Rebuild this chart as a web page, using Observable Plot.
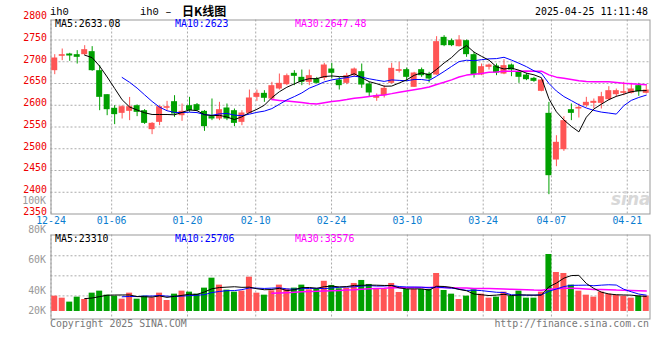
<!DOCTYPE html>
<html><head><meta charset="utf-8">
<script src="https://cdn.jsdelivr.net/npm/d3@7"></script>
<script src="https://cdn.jsdelivr.net/npm/@observablehq/plot@0.6"></script>
<style>
body{margin:0;background:#fff;}
#wrap{position:relative;width:660px;height:360px;overflow:hidden;background:#fff;}
#wrap svg{position:absolute;left:0;top:0;background:transparent;}
.t{position:absolute;white-space:pre;font-family:"DejaVu Sans Mono",monospace;font-size:9.9px;line-height:1;}
</style></head><body><div id="wrap"></div>
<script>
// ---------- data ----------
const dates = ["2024-12-24","2024-12-25","2024-12-26","2024-12-27","2024-12-30","2024-12-31",
"2025-01-02","2025-01-03","2025-01-06","2025-01-07","2025-01-08","2025-01-09","2025-01-10","2025-01-13","2025-01-14","2025-01-15","2025-01-16","2025-01-17","2025-01-20","2025-01-21","2025-01-22","2025-01-23","2025-01-24","2025-01-27",
"2025-02-05","2025-02-06","2025-02-07","2025-02-10","2025-02-11","2025-02-12","2025-02-13","2025-02-14","2025-02-17","2025-02-18","2025-02-19","2025-02-20","2025-02-21","2025-02-24","2025-02-25","2025-02-26","2025-02-27","2025-02-28",
"2025-03-03","2025-03-04","2025-03-05","2025-03-06","2025-03-07","2025-03-10","2025-03-11","2025-03-12","2025-03-13","2025-03-14","2025-03-17","2025-03-18","2025-03-19","2025-03-20","2025-03-21","2025-03-24","2025-03-25","2025-03-26","2025-03-27","2025-03-28","2025-03-31",
"2025-04-01","2025-04-02","2025-04-03","2025-04-07","2025-04-08","2025-04-09","2025-04-10","2025-04-11","2025-04-14","2025-04-15","2025-04-16","2025-04-17","2025-04-18","2025-04-21","2025-04-22","2025-04-23","2025-04-24"];
const open  = [2679.5,2712.5,2717.8,2716.3,2716.3,2723.2,2679.5,2624.3,2593,2581.4,2586,2599,2587.5,2543.9,2560.7,2593,2608.2,2576,2599,2601.3,2586,2573.8,2568.4,2593.7,2587.5,2560.7,2581.4,2618.2,2627.4,2614.4,2637.4,2647.3,2673.4,2664.2,2652.7,2660.3,2661.9,2683.3,2658,2650.4,2668,2677.2,2648.8,2616,2622,2650.4,2678,2681.8,2641.2,2681.8,2671.8,2669.5,2756.1,2748.5,2734.7,2748.5,2716.3,2669.5,2687.2,2690.2,2671.8,2692.5,2675.7,2669.5,2661.9,2632,2581.4,2474.1,2497.9,2589.8,2591.4,2599,2604.4,2604.4,2612.8,2624.3,2627.4,2627.4,2645,2627.4];
const high  = [2716.3,2729.3,2719.4,2725.5,2737,2734.7,2691,2624.3,2599,2599,2618,2601,2590,2560,2599,2609,2622,2602.9,2618.2,2604,2588,2614.4,2606.7,2602.9,2591.4,2587.5,2635,2635,2633.5,2652.7,2671.8,2671.8,2679.5,2681,2681,2664,2696.4,2696.4,2664.2,2673.4,2685.6,2694.8,2652.7,2625.9,2645,2696.4,2698.7,2685.6,2675.7,2685.6,2675.7,2757.7,2760,2752.3,2760,2750,2721.6,2694.8,2694.8,2694.8,2704.8,2694.8,2679.5,2673.4,2664.2,2659,2606.7,2530,2573.8,2602.9,2602.9,2618.2,2614.4,2629.7,2642.7,2637.4,2652.7,2650.4,2650.4,2645];
const low   = [2670.3,2702.5,2701,2694.8,2714,2678,2587.5,2576,2555.4,2568.4,2564.6,2573.8,2556,2532.4,2553,2587.5,2572.2,2563,2583.7,2586,2540,2564.6,2564.6,2564.6,2550.8,2553,2580,2609,2606.7,2610.5,2635,2645,2645,2645,2645,2648.8,2656.5,2660.3,2635,2647.3,2664.2,2638.9,2618.2,2609,2616.7,2648.8,2674.1,2654.2,2641,2664.2,2651.2,2669,2734.7,2734.7,2734,2710.2,2662.6,2668,2681,2668,2670.3,2665.7,2650.4,2656.5,2652.7,2631,2394.4,2458.8,2494,2564.6,2570.7,2595.2,2591.4,2591.4,2610.5,2618.2,2622,2625.9,2620.5,2625.9];
const close = [2708.6,2716.3,2713.2,2710.2,2727.8,2679.5,2618.2,2589.8,2578.4,2596.7,2596.7,2583.7,2558.4,2558.4,2596.7,2596.7,2579.9,2586,2587.5,2587.5,2550.8,2568.4,2589.8,2568.4,2558.4,2582.2,2616.7,2627.4,2616,2645,2650.4,2668,2666.5,2652.7,2668,2650.4,2692.5,2673.4,2645,2668,2683.3,2646.5,2628.2,2622,2638.9,2684.9,2681.8,2664.2,2674.1,2668,2660.3,2746.2,2737,2737,2750,2716.3,2670.3,2688.7,2692.5,2674.1,2691,2681,2664.2,2658.8,2655,2658,2438.1,2514.8,2564.6,2581.4,2595.2,2606.7,2609,2619.7,2633.5,2633.5,2631.2,2637.4,2631.2,2635];
const volume = [27500,23900,16800,25700,21500,32900,36500,29300,27500,22100,
32900,22100,27500,24500,32900,19700,31100,36500,34700,31100,
41900,59800,47300,38300,34700,36500,61600,32900,29300,37100,
47300,40100,41900,47300,38900,40100,54200,46700,40700,41900,
50300,55700,48500,39500,39500,50300,34100,39500,39500,39500,
39500,68200,37700,31100,21500,27500,38900,31100,23900,25700,
34700,27500,36500,23900,23900,34700,102300,70000,68200,47300,
36500,29300,25700,34700,31100,29300,27500,23900,27500,27500];
const priceTicks = [2350,2400,2450,2500,2550,2600,2650,2700,2750,2800];
const dateLabels = ["12-24","01-06","01-20","02-10","02-24","03-10","03-24","04-07","04-21"];
const volGrid = [28000,64000,100000];
const volTickLabels = ["100K","80K","60K","40K","20K"];
const maLabels = ["MA5:2633.08","MA10:2623","MA30:2647.48"];
const volMaLabels = ["MA5:23310","MA10:25706","MA30:33576"];
const maColors = ["#000000","#0000ff","#ff00ff"];

// ---------- build ----------
const N = dates.length;
const RED = "#ff5555", GREEN = "#00a000";
const rows = dates.map((d,i)=>({i, o:open[i], h:high[i], l:low[i], c:close[i], v:volume[i], col: close[i]>=open[i]?RED:GREEN}));
const ma = (arr,n)=>arr.map((_,i)=> i<n-1 ? null : {i, v:d3.mean(arr.slice(i-n+1,i+1))}).filter(Boolean);
const labelIdx = dateLabels.map(l => dates.findIndex(d => d.endsWith(l)));
const gridPos = i => i*N/(N-1) - 0.5;   // date grid spans first..last slot edges
const dotted = {stroke:"#aaa", strokeDasharray:"2,2"};
const common = {width:660, height:360, marginLeft:50.5, marginRight:10.5,
  style:"background:transparent;overflow:visible;font-family:'DejaVu Sans Mono',monospace;font-size:9.9px;",
  color:{type:"identity"}};

const main = Plot.plot({...common, marginTop:19.5, marginBottom:146.5,
  x:{type:"linear", domain:[-0.5, N-0.5], axis:null},
  y:{type:"linear", domain:[2350, 2796], axis:null},
  marks:[
    Plot.ruleY(priceTicks.filter(t=>t>2350 && t<2796), dotted),
    Plot.ruleX(labelIdx.map(gridPos), dotted),
    Plot.frame({stroke:"#999"}),
    Plot.ruleX(rows, {x:"i", y1:"l", y2:"h", stroke:"col", strokeWidth:1}),
    Plot.rect(rows, {x1:d=>d.i-0.4, x2:d=>d.i+0.4, y1:d=>Math.min(d.o,d.c), y2:d=>Math.max(d.o,d.c), fill:"col"}),
    Plot.line(ma(close,30), {x:"i", y:"v", stroke:maColors[2], strokeWidth:1.5}),
    Plot.line(ma(close,10), {x:"i", y:"v", stroke:maColors[1], strokeWidth:1}),
    Plot.line(ma(close,5), {x:"i", y:"v", stroke:maColors[0], strokeWidth:1}),
    Plot.text(priceTicks, {frameAnchor:"left", y:d=>d, text:d=>String(d), textAnchor:"end", dx:-4, dy:-2.2, fill:"#ee0000", fontSize:9.9}),
    Plot.text(labelIdx, {x:gridPos, frameAnchor:"bottom", dy:9.8, text:(d,k)=>dateLabels[k], fill:"#0a7dd0", fontSize:9.9})
  ]});

const vol = Plot.plot({...common, marginTop:234.5, marginBottom:41.5,
  x:{type:"linear", domain:[-0.5, N-0.5], axis:null},
  y:{type:"linear", domain:[-13500, 137300], axis:null},
  marks:[
    Plot.ruleY(volGrid, dotted),
    Plot.ruleX(labelIdx.map(gridPos), dotted),
    Plot.frame({stroke:"#999"}),
    Plot.rect(rows, {x1:d=>d.i-0.4, x2:d=>d.i+0.4, y1:0, y2:"v", fill:"col"}),
    Plot.line(ma(volume,30), {x:"i", y:"v", stroke:maColors[2], strokeWidth:1.5}),
    Plot.line(ma(volume,10), {x:"i", y:"v", stroke:maColors[1], strokeWidth:1}),
    Plot.line(ma(volume,5), {x:"i", y:"v", stroke:maColors[0], strokeWidth:1})
  ]});

const wrap = document.getElementById("wrap");
wrap.appendChild(main);
wrap.appendChild(vol);

function addText(txt, x, yc, opts={}) {
  const el = document.createElement("div");
  el.className = "t"; el.textContent = txt;
  el.style.top = yc + "px";
  if (opts.align === "right") el.style.right = (660 - x) + "px"; else el.style.left = x + "px";
  el.style.transform = "translateY(-50%)";
  Object.assign(el.style, opts.style || {});
  wrap.appendChild(el);
  return el;
}
// header
addText("ih0", 50, 12, {style:{fontFamily:"'Liberation Mono',monospace", fontSize:"10.5px", color:"#000"}});
addText("ih0 \u2013 ", 140, 11.5, {style:{fontFamily:"'Liberation Mono',monospace", fontSize:"10.5px", color:"#000"}});
addText("日K线图", 182, 11, {style:{fontFamily:"'Noto Sans CJK SC',sans-serif", fontSize:"12px", fontWeight:"bold", color:"#000"}});
addText("2025-04-25 11:11:48", 648, 12, {align:"right", style:{color:"#000"}});
// MA rows
[55,175,295].forEach((x,k)=>{
  addText(maLabels[k], x, 24, {style:{color:maColors[k]}});
  addText(volMaLabels[k], x, 239, {style:{color:maColors[k]}});
});
// volume axis labels (Sina's own placement)
[200.7,230,260,290.7,310.7].forEach((yc,k)=> addText(volTickLabels[k], 46, yc, {align:"right", style:{color:"#999"}}));
// footer
addText("Copyright 2025 SINA.COM", 50, 323.5, {style:{color:"#777"}});
addText("http://finance.sina.com.cn", 649, 323.5, {align:"right", style:{color:"#777"}});
// watermark
addText("sina", 611, 199, {style:{fontFamily:"'DejaVu Sans',sans-serif", fontSize:"17px", fontWeight:"bold", fontStyle:"italic", color:"#d8d8d8"}});
</script></body></html>
